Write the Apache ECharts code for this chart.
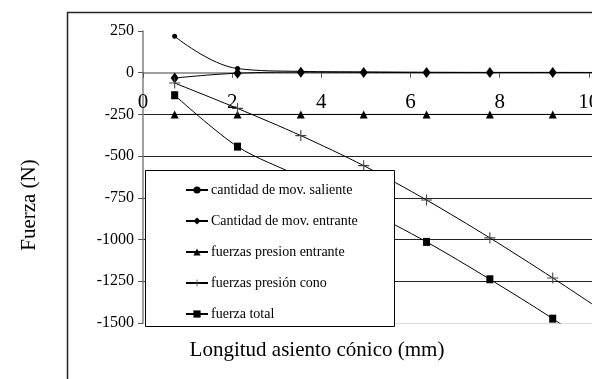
<!DOCTYPE html>
<html>
<head>
<meta charset="utf-8">
<script src="https://cdn.jsdelivr.net/npm/echarts@6/dist/echarts.min.js"></script>
<style>
  html, body { margin: 0; padding: 0; background: #fff; }
  #chart { width: 592px; height: 379px; }
</style>
</head>
<body>
<div id="chart"></div>
<script>
// Longitud del asiento cónico (mm)
const longitud = [0.71, 2.12, 3.54, 4.95, 6.36, 7.78, 9.19, 10.61];

// Fuerzas (N) para cada longitud
const movSaliente     = [218, 25, 8, 5, 3, 2, 2, 1];
const movEntrante     = [-32, -3, 3, 2, 1, 1, 1, 1];
const presionEntrante = [-250, -250, -250, -250, -250, -250, -250, -250];
const presionCono     = [-62, -214, -377, -557, -763, -990, -1230, -1482];
const fuerzaTotal     = [-135, -443, -625, -815, -1014, -1238, -1474, -1735];

const seriesNames = [
  'cantidad de mov. saliente',
  'Cantidad de mov. entrante',
  'fuerzas presion entrante',
  'fuerzas presión cono',
  'fuerza total'
];

// Escalas de los ejes
const xRange = [0, 12];
const xStep = 2;
const yRange = [-1500, 250];
const yStep = 250;

const pairs = (ys) => longitud.map((x, i) => [x, ys[i]]);

const serif = '"Liberation Serif", "Times New Roman", serif';
const plusPath = 'path://M4.5,0h1v4.5h4.5v1h-4.5v4.5h-1v-4.5h-4.5v-1h4.5z';

// Área de trazado; el eje X se desplaza hasta la línea de fuerza nula
const plot = { left: 143, top: 31, width: 535, height: 292 };
const zeroOffset = -plot.height * (0 - yRange[0]) / (yRange[1] - yRange[0]);

const lineSeries = (name, data, symbol, size, color, smooth) => ({
  name,
  type: 'line',
  data: pairs(data),
  symbol,
  symbolSize: size,
  showAllSymbol: true,
  smooth,
  itemStyle: { color: color, borderWidth: 0 },
  lineStyle: { color: '#000', width: 1 },
  emphasis: { disabled: true },
  z: 2
});

const chart = echarts.init(document.getElementById('chart'), null, { renderer: 'canvas' });

chart.setOption({
  animation: false,
  backgroundColor: '#fff',
  textStyle: { fontFamily: serif, color: '#000' },
  grid: Object.assign({ outerBoundsMode: 'none' }, plot),
  xAxis: {
    type: 'value',
    position: 'bottom',
    offset: zeroOffset,
    min: xRange[0], max: xRange[1], interval: xStep,
    axisLine: { onZero: false, lineStyle: { color: '#808080', width: 1.5 } },
    axisTick: { show: true, length: 5, lineStyle: { color: '#555', width: 1 } },
    axisLabel: { fontFamily: serif, fontSize: 21, color: '#000', margin: 19, formatter: v => String(v) },
    splitLine: { show: false }
  },
  yAxis: {
    type: 'value',
    min: yRange[0], max: yRange[1], interval: yStep,
    axisLine: { show: true, onZero: false, lineStyle: { color: '#808080', width: 1.5 } },
    axisTick: { show: true, length: 5, lineStyle: { color: '#555', width: 1 } },
    axisLabel: { fontFamily: serif, fontSize: 16, color: '#000', margin: 9, formatter: v => String(v) },
    splitLine: {
      show: true,
      lineStyle: {
        width: 1,
        color: ['#dcdcdc', '#222', '#222', '#222', '#222', '#222', 'rgba(0,0,0,0)', 'rgba(0,0,0,0)']
      }
    }
  },
  legend: {
    orient: 'vertical',
    left: 185,
    top: 183,
    itemWidth: 22,
    itemHeight: 9,
    itemGap: 17,
    padding: 0,
    z: 6,
    textStyle: { fontFamily: serif, fontSize: 14, color: '#000', padding: [0, 0, 0, -2] },
    data: seriesNames
  },
  graphic: [
    {
      type: 'rect', z: 3,
      shape: { x: 145.5, y: 170.5, width: 249, height: 156 },
      style: { fill: '#fff', stroke: '#000', lineWidth: 1 }
    },
    {
      type: 'rect', z: 1, silent: true,
      shape: { x: 67.5, y: 12.5, width: 600, height: 420 },
      style: { fill: 'none', stroke: '#222', lineWidth: 1.5 }
    },
    {
      type: 'text', z: 5,
      x: 29, y: 205, rotation: Math.PI / 2,
      style: { text: 'Fuerza (N)', font: '21px ' + serif, fill: '#000', align: 'center', verticalAlign: 'middle' }
    },
    {
      type: 'text', z: 5,
      x: 317, y: 350,
      style: { text: 'Longitud asiento cónico (mm)', font: '21px ' + serif, fill: '#000', align: 'center', verticalAlign: 'middle' }
    }
  ],
  series: [
    lineSeries(seriesNames[0], movSaliente, 'circle', 5, '#000', 0.4),
    lineSeries(seriesNames[1], movEntrante, 'diamond', [8, 11], '#000', 0.4),
    lineSeries(seriesNames[2], presionEntrante, 'triangle', [8, 8], '#000', false),
    lineSeries(seriesNames[3], presionCono, plusPath, 11, '#444', 0.3),
    lineSeries(seriesNames[4], fuerzaTotal, 'rect', [7, 8], '#000', 0.3)
  ]
});
</script>
</body>
</html>
